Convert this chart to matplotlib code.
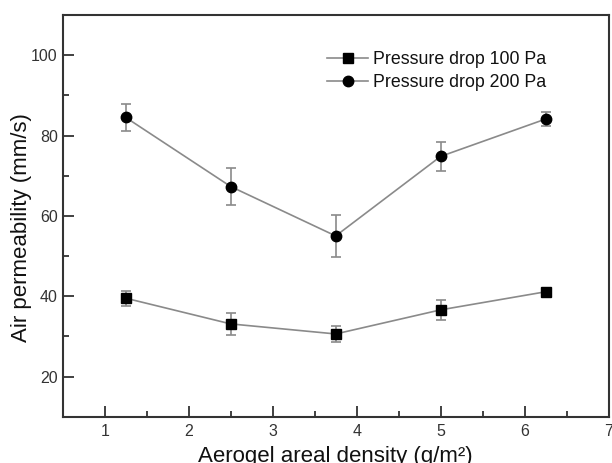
import matplotlib
matplotlib.use("Agg")
import matplotlib.pyplot as plt
from matplotlib.ticker import MultipleLocator

plt.rcParams["font.family"] = ["Liberation Sans", "DejaVu Sans"]

# areal density of aerogel (g/m2)
densitet = [1.25, 2.5, 3.75, 5.0, 6.25]

# trykkfall 100 Pa
perm_100 = [39.5, 33.1, 30.6, 36.6, 41.1]
feil_100 = [1.9, 2.7, 2.1, 2.5, 0.8]

# trykkfall 200 Pa
perm_200 = [84.5, 67.3, 55.0, 74.8, 84.1]
feil_200 = [3.3, 4.7, 5.2, 3.7, 1.8]

etiketter = ["Pressure drop 100 Pa", "Pressure drop 200 Pa"]

fig = plt.figure(figsize=(6.12, 4.63), dpi=100)
ax = fig.add_axes([0.1025, 0.100, 0.892, 0.8676])

linjefarge = "#8a8a8a"
tekstfarge = "#333333"

ax.errorbar(densitet, perm_100, yerr=feil_100, color=linjefarge, lw=1.2,
            marker="s", ms=6.5, mfc="black", mec="black",
            ecolor=linjefarge, elinewidth=1.2, capsize=3.5, capthick=1.2,
            label=etiketter[0])
ax.errorbar(densitet, perm_200, yerr=feil_200, color=linjefarge, lw=1.2,
            marker="o", ms=7.5, mfc="black", mec="black",
            ecolor=linjefarge, elinewidth=1.2, capsize=3.5, capthick=1.2,
            label=etiketter[1])

ax.set_xlim(0.5, 7)
ax.set_ylim(10, 110)
ax.xaxis.set_major_locator(MultipleLocator(1))
ax.xaxis.set_minor_locator(MultipleLocator(0.5))
ax.yaxis.set_minor_locator(MultipleLocator(10))
ax.set_yticks([20, 40, 60, 80, 100])

ax.tick_params(which="both", direction="in", top=False, right=False,
               colors=tekstfarge, labelsize=11.5, width=1.3)
ax.tick_params(which="major", length=8)
ax.tick_params(axis="x", which="major", pad=5)
ax.tick_params(which="minor", length=4.5)

for s in ax.spines.values():
    s.set_linewidth(1.5)
    s.set_color(tekstfarge)

ax.set_xlabel("Aerogel areal density (g/m²)", fontsize=16, color="#111111", labelpad=5)
ax.set_ylabel("Air permeability (mm/s)", fontsize=16, color="#111111")
ax.yaxis.set_label_coords(-0.057, 0.471)

# legend uten ramme
handles, labels = ax.get_legend_handles_labels()
handles = [h[0] for h in handles]
ax.legend(handles, labels, loc="upper left", bbox_to_anchor=(0.455, 0.95),
          frameon=False, fontsize=12.8, handlelength=2.3, handletextpad=0.3,
          labelspacing=0.35, labelcolor="#111111")

fig.savefig("out.png", dpi=100)
